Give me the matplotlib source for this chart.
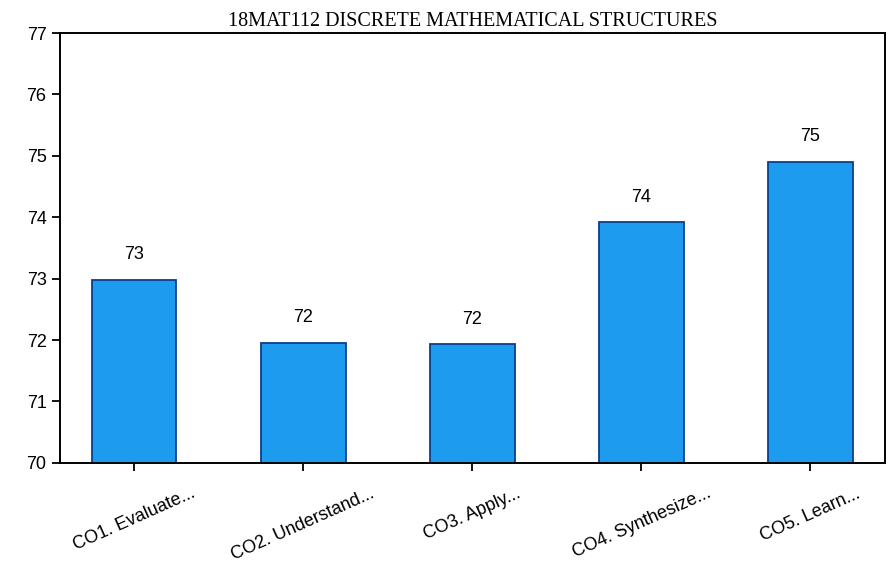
import numpy as np
import matplotlib.pyplot as plt

outcomes = ['CO1. Evaluate...', 'CO2. Understand...', 'CO3. Apply...',
            'CO4. Synthesize...', 'CO5. Learn...']
scores = [72.98, 71.96, 71.93, 73.92, 74.9]

fig = plt.figure(figsize=(8.92, 5.8), dpi=100)
ax = fig.add_axes([0.067, 0.202, 0.925, 0.741])

x = np.arange(len(outcomes))
ax.bar(x, scores, width=0.5, bottom=0, color='#1c9bef', edgecolor='#0b3f8a', linewidth=1.3)

for xi, s in zip(x, scores):
    ax.text(xi, s + 0.27, f'{round(s)}', ha='center', va='bottom', fontsize=13,
            family='Liberation Sans')

ax.set_ylim(70, 77)
ax.set_xlim(-0.44, 4.44)
ax.set_yticks(range(70, 78))
ax.set_xticks(x)
ax.set_xticklabels(outcomes, rotation=24, ha='center', rotation_mode='default',
                   fontsize=13, family='Liberation Sans')
for lab in ax.get_yticklabels():
    lab.set_fontsize(13)
    lab.set_family('Liberation Sans')
ax.tick_params(axis='both', direction='out', length=6, width=1.3)
ax.tick_params(axis='x', pad=10)
for sp in ax.spines.values():
    sp.set_linewidth(1.4)

ax.set_title('18MAT112 DISCRETE MATHEMATICAL STRUCTURES', fontsize=14.5,
             family='Liberation Serif', pad=5)

plt.savefig('out.png', dpi=100)
